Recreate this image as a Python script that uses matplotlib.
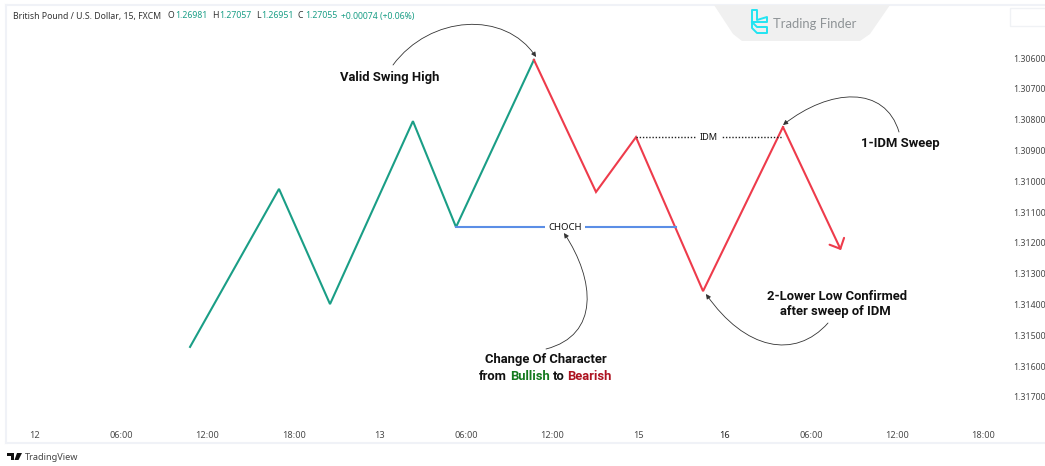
import matplotlib
matplotlib.use('Agg')
import matplotlib.pyplot as plt
from matplotlib.patches import FancyArrowPatch, PathPatch
from matplotlib.path import Path
from matplotlib.lines import Line2D
from matplotlib.transforms import Affine2D

W, H = 1045, 466

# swing points: hours since the "12" tick, and price
hours_up = [10.79, 16.98, 20.53, 26.30, 29.30, 34.72]
price_up = [1.31538, 1.31025, 1.31399, 1.30805, 1.31149, 1.30606]
hours_down = [34.72, 39.04, 41.82, 46.49, 52.05, 56.09]
price_down = [1.30606, 1.31035, 1.30857, 1.31357, 1.30824, 1.31224]

choch_hours = [29.30, 44.60]
choch_price = [1.31149, 1.31149]
idm_hours = [41.82, 52.05]
idm_price = [1.30857, 1.30857]

x_ticks = [0, 6, 12, 18, 24, 30, 36, 42, 48, 54, 60, 66]
x_labels = ['12', '06:00', '12:00', '18:00', '13', '06:00', '12:00', '15', '16', '06:00', '12:00', '18:00']
y_ticks = [1.306, 1.307, 1.308, 1.309, 1.310, 1.311, 1.312, 1.313, 1.314, 1.315, 1.316, 1.317]

GREEN = '#1a9e86'
RED = '#ee3b4b'
BLUE = '#5b8ee6'
FRAME = '#f0f2f7'
TEXT = '#111111'
AXIS_TEXT = '#4a4a4a'

plt.rcParams['font.family'] = 'Roboto'

fig = plt.figure(figsize=(W / 100, H / 100), dpi=100, facecolor='white')

# pixel coordinates of the screenshot, top left origin
px = Affine2D().scale(1 / W, -1 / H).translate(0, 1) + fig.transFigure

left, right, top, bottom = 6, W + 2, 5, 443
ax = fig.add_axes([left / W, 1 - bottom / H, (right - left) / W, (bottom - top) / H])
px_per_hour = 14.37
px_per_price = 30800
ax.set_xlim((left - 35) / px_per_hour, (right - 35) / px_per_hour)
ax.set_ylim(1.306 + (bottom - 58) / px_per_price, 1.306 + (top - 58) / px_per_price)

for s in ax.spines.values():
    s.set_color(FRAME)
    s.set_linewidth(1.5)

ax.set_xticks(x_ticks)
ax.set_xticklabels(x_labels, family='Noto Sans', fontsize=6.6, color=AXIS_TEXT)
ax.get_xticklabels()[8].set_fontweight('bold')
ax.get_xticklabels()[8].set_color('#222222')
ax.yaxis.tick_right()
ax.set_yticks(y_ticks)
ax.set_yticklabels(['%.5f' % v for v in y_ticks], family='Noto Sans', fontsize=6.3, color=AXIS_TEXT)
ax.tick_params(axis='x', length=0, pad=-9)
ax.tick_params(axis='y', length=0, pad=-24.5)

# swings
ax.plot(hours_up, price_up, color=GREEN, lw=1.5, solid_joinstyle='miter')
ax.plot(hours_down[:-1], price_down[:-1], color=RED, lw=1.5, solid_joinstyle='miter')
ax.annotate('', xy=(hours_down[-1], price_down[-1]), xytext=(hours_down[-2], price_down[-2]),
            arrowprops=dict(arrowstyle='->,head_length=0.5,head_width=0.48', color=RED, lw=1.5,
                            shrinkA=0, shrinkB=0, mutation_scale=12))

# levels
ax.plot(choch_hours, choch_price, color=BLUE, lw=1.5)
ax.plot(idm_hours, idm_price, color='#222222', lw=1.0, ls=(0, (1, 1.3)))
ax.text(sum(choch_hours) / 2 - 0.08, choch_price[0], 'CHOCH', ha='center', va='center', fontsize=6.9,
        family='Noto Sans', color=TEXT, bbox=dict(fc='white', ec='none', pad=2.5))
ax.text(sum(idm_hours) / 2 - 0.05, idm_price[0], 'IDM', ha='center', va='center', fontsize=6.6,
        family='Noto Sans', color=TEXT, bbox=dict(fc='white', ec='none', pad=3))


def label(x, y, s, size=9.35, weight='bold', color=TEXT, ha='center', family='Roboto'):
    fig.text(x, y, s, transform=px, fontsize=size, fontweight=weight, color=color, ha=ha, va='center', family=family)


def curve(p0, p1, p2, p3):
    path = Path([p0, p1, p2, p3], [Path.MOVETO, Path.CURVE4, Path.CURVE4, Path.CURVE4])
    fig.add_artist(FancyArrowPatch(path=path, transform=px, arrowstyle='-|>,head_length=0.7,head_width=0.35',
                                   mutation_scale=4, lw=0.6, color='#333333', shrinkA=0, shrinkB=0))


# callouts
curve((393, 65), (430, 15), (505, 10), (536, 57))
curve((899, 132), (885, 85), (830, 88), (783, 125))
curve((546, 349), (600, 335), (595, 280), (564, 233))
curve((828, 323), (795, 360), (745, 350), (706, 294))

label(390, 77, 'Valid Swing High')
label(900, 143, '1-IDM Sweep')
label(546, 360, 'Change Of Character')
label(479, 376, 'from', ha='left')
label(510, 376, 'Bullish', color='#157a1f', ha='left')
label(553, 376, 'to', ha='left')
label(567, 376, 'Bearish', color='#ad1320', ha='left')
label(837, 297, '2-Lower Low Confirmed')
label(835, 312, 'after sweep of IDM')

# header line
head = 'Noto Sans'
label(13, 16, 'British Pound / U.S. Dollar, 15, FXCM', size=6.25, weight='normal', color='#333333', ha='left', family=head)
for x, s in [(168, 'O'), (212, 'H'), (256, 'L'), (298, 'C')]:
    label(x, 16, s, size=6.25, weight='normal', color='#333333', ha='left', family=head)
for x, s in [(175, '1.26981'), (219, '1.27057'), (261, '1.26951'), (305, '1.27055'), (341, '+0.00074 (+0.06%)')]:
    label(x, 16, s, size=6.25, weight='normal', color=GREEN, ha='left', family=head)

# watermark tab
tab = Path([(714, 5), (890, 5), (870, 34), (860, 41), (742, 41), (733, 34), (714, 5)])
fig.add_artist(PathPatch(tab, transform=px, fc='#f0f0f0', ec='none'))
for xs, ys in [([752, 752, 757, 757, 767, 767, 757, 752], [21, 10, 10, 20, 17, 22, 22, 22]),
               ([752, 757, 767, 767, 757, 752, 752], [22, 27, 27, 33, 33, 28, 22])]:
    fig.add_artist(Line2D(xs, ys, transform=px, color='#22e4f2', lw=1.4))
label(773, 24, 'Trading Finder', size=9.4, weight='normal', color='#8e9396', ha='left', family='Lato')

# empty box top right
fig.add_artist(PathPatch(Path([(1010, 8), (1046, 8), (1046, 26), (1010, 26), (1010, 8)]), transform=px,
                         fc='none', ec='#f0f2f5', lw=1))

# TradingView footer
fig.add_artist(PathPatch(Path([(7, 453), (14, 453), (14, 460), (11, 460), (11, 456), (7, 456), (7, 453)]),
                         transform=px, fc='#111111', ec='none'))
fig.add_artist(PathPatch(Path([(17, 453), (22, 453), (18.5, 460), (14.5, 460), (17, 453)]),
                         transform=px, fc='#111111', ec='none'))
label(25, 457, 'TradingView', size=6.6, weight='normal', color='#444444', ha='left', family='Noto Sans')

fig.savefig('out.png', dpi=100)
